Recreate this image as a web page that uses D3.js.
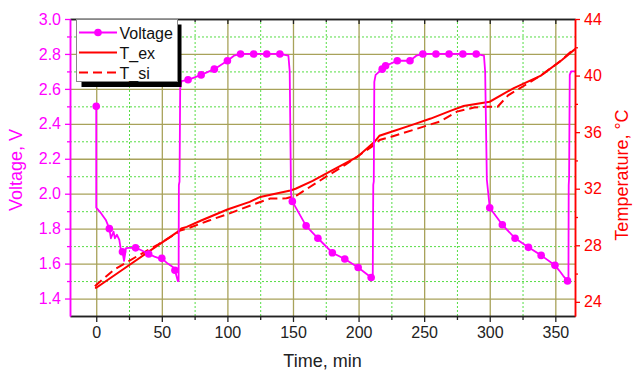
<!DOCTYPE html>
<html>
<head>
<meta charset="utf-8">
<script src="https://cdn.jsdelivr.net/npm/d3@7"></script>
<style>
  body { margin: 0; background: #fff; }
  svg { font-family: "Liberation Sans", Arial, sans-serif; }
</style>
</head>
<body>
<svg></svg>
<script>
// Data
const voltT = [0, 0, 3.5, 7.3, 10, 11.2, 13.2, 14.2, 15.8, 17.6, 18.8, 20, 21.2, 22.7, 25, 30, 34, 40, 44.4, 48.2, 50, 54.5, 58.4, 60, 62.2, 62.8,
  63.0, 63.5, 64.0, 65, 70, 80, 90, 100, 105, 110, 120, 130, 140, 146.5, 147.5, 148.5, 149.5,
  160, 169, 180, 189.5, 199.7, 209.6, 210.8, 211.2, 211.6, 212, 213, 218, 220.6, 229.5, 239.2, 244, 249, 259, 269, 279.5, 289.7, 295.6, 296.5, 297.8,
  300, 309.6, 319.3, 329.5, 339.2, 349.7, 353, 356, 359.3, 360, 360.2, 360.5, 361, 362, 366];
const voltV = [2.50, 1.92, 1.89, 1.85, 1.80, 1.745, 1.783, 1.745, 1.765, 1.736, 1.678, 1.668, 1.615, 1.689, 1.69, 1.69, 1.678, 1.655, 1.64, 1.63, 1.63, 1.60, 1.58, 1.562, 1.50, 1.50,
  2.05, 2.07, 2.60, 2.645, 2.652, 2.68, 2.713, 2.761, 2.79, 2.80, 2.80, 2.80, 2.80, 2.79, 2.70, 2.00, 1.956,
  1.816, 1.745, 1.662, 1.626, 1.578, 1.52, 1.51, 2.05, 2.07, 2.64, 2.68, 2.713, 2.732, 2.761, 2.761, 2.79, 2.80, 2.80, 2.80, 2.80, 2.80, 2.79, 2.70, 2.08,
  1.92, 1.822, 1.745, 1.693, 1.647, 1.59, 1.56, 1.53, 1.501, 1.50, 2.05, 2.09, 2.68, 2.70, 2.70];

const markT = [0, 10, 20, 30, 40, 50, 60, 70, 80, 90, 100, 110, 120, 130, 140, 149.5, 160, 169, 180, 189.5, 199.7, 209.6,
  218, 220.6, 229.5, 239.2, 249, 259, 269, 279.5, 289.7, 300, 309.6, 319.3, 329.5, 339.2, 349.7, 359.3];
const markV = [2.50, 1.80, 1.668, 1.69, 1.655, 1.63, 1.562, 2.652, 2.68, 2.713, 2.761, 2.80, 2.80, 2.80, 2.80, 1.956, 1.816, 1.745, 1.662, 1.626, 1.578, 1.52,
  2.713, 2.732, 2.761, 2.761, 2.80, 2.80, 2.80, 2.80, 2.80, 1.92, 1.822, 1.745, 1.693, 1.647, 1.59, 1.501];

const exT = [-1, 0, 20, 40, 62, 65, 69, 80, 100, 117, 125, 148, 152, 165, 178, 199, 212, 216, 242, 255, 270, 280, 300, 318, 339, 355, 366];
const exV = [25.0, 25.0, 26.27, 27.55, 28.95, 29.2, 29.3, 29.75, 30.53, 31.07, 31.42, 31.88, 32.0, 32.55, 33.2, 34.25, 35.3, 35.75, 36.55, 36.96, 37.5, 37.85, 38.15, 39.1, 40.0, 41.1, 41.95];

const siT = [-1, 0, 14, 31.6, 47, 61, 64, 70, 86, 102.7, 120, 132.6, 145, 153, 171, 190, 212, 216, 224.4, 244.8, 262, 275, 288, 297, 306, 314, 339, 355, 363];
const siV = [25.1, 25.2, 26.3, 27.25, 28.05, 28.83, 29.05, 29.2, 29.75, 30.29, 30.9, 31.3, 31.32, 31.54, 32.6, 33.7, 35.1, 35.45, 35.66, 36.25, 36.75, 37.45, 37.74, 37.8, 37.8, 38.6, 40.0, 41.1, 41.8];

const timeTicks = [0, 50, 100, 150, 200, 250, 300, 350];
const voltTicks = [1.4, 1.6, 1.8, 2.0, 2.2, 2.4, 2.6, 2.8, 3.0];
const tempTicks = [24, 28, 32, 36, 40, 44];

// Sizes
const margin = { t: 19, b: 55, l: 70, r: 58 };
const W = 633, H = 371;
const width = W - margin.l - margin.r;
const height = H - margin.t - margin.b;

const MAG = "#ff00ff", RED = "#ff0000", OLIVE = "#a8a25a", GREEN = "#55dd44";

const root = d3.select("svg").attr("width", W).attr("height", H);
const svg = root.append("g").attr("transform", `translate(${margin.l}, ${margin.t})`);

// Scales
const x = d3.scaleLinear().domain([-20, 365]).range([0, width]);
const yV = d3.scaleLinear().domain([1.3, 3.0]).range([height, 0]);
const yT = d3.scaleLinear().domain([23, 44]).range([height, 0]);

const timeMinor = d3.range(25, 350, 50);
const voltMinor = d3.range(1.5, 3.0, 0.2);
const tempMinor = d3.range(26, 44, 4);

// Grids
const grid = (axis, cls) => g => {
  g.call(axis);
  g.select(".domain").remove();
  g.selectAll("line").attr("class", cls);
};
svg.append("g").attr("transform", `translate(0, ${height})`)
  .call(grid(d3.axisBottom(x).tickValues(timeMinor).tickSize(-height).tickFormat(""), "gm"));
svg.append("g")
  .call(grid(d3.axisLeft(yV).tickValues(voltMinor).tickSize(-width).tickFormat(""), "gm"));
svg.append("g").attr("transform", `translate(0, ${height})`)
  .call(grid(d3.axisBottom(x).tickValues(timeTicks).tickSize(-height).tickFormat(""), "gM"));
svg.append("g")
  .call(grid(d3.axisLeft(yV).tickValues(voltTicks.filter(v => v < 3)).tickSize(-width).tickFormat(""), "gM"));
svg.selectAll(".gm").attr("stroke", GREEN).attr("stroke-width", 1).attr("stroke-dasharray", "2,2");
svg.selectAll(".gM").attr("stroke", OLIVE).attr("stroke-width", 1.3);

// Lines
root.append("defs").append("clipPath").attr("id", "clip")
  .append("rect").attr("width", width).attr("height", height);
const plot = svg.append("g").attr("clip-path", "url(#clip)");

const lineV = d3.line().x(i => x(voltT[i])).y(i => yV(voltV[i]));
const lineEx = d3.line().x(i => x(exT[i])).y(i => yT(exV[i]));
const lineSi = d3.line().x(i => x(siT[i])).y(i => yT(siV[i]));

plot.append("path").attr("d", lineSi(d3.range(siT.length)))
  .attr("fill", "none").attr("stroke", RED).attr("stroke-width", 2).attr("stroke-dasharray", "9,5");
plot.append("path").attr("d", lineEx(d3.range(exT.length)))
  .attr("fill", "none").attr("stroke", RED).attr("stroke-width", 2);
plot.append("path").attr("d", lineV(d3.range(voltT.length)))
  .attr("fill", "none").attr("stroke", MAG).attr("stroke-width", 1.8).attr("stroke-linejoin", "round");
plot.selectAll("circle.mk").data(d3.range(markT.length)).join("circle")
  .attr("class", "mk")
  .attr("cx", i => x(markT[i])).attr("cy", i => yV(markV[i])).attr("r", 3.8)
  .attr("fill", MAG);

// Axes
const styleAxis = (g, color, size) => {
  g.select(".domain").attr("stroke", color).attr("stroke-width", 1.5);
  g.selectAll(".tick line").attr("stroke", color).attr("stroke-width", 1.3);
  g.selectAll(".tick text").attr("fill", color).attr("font-size", size)
    .attr("font-family", "Liberation Sans, Arial, sans-serif");
};

// top frame
svg.append("g").call(d3.axisTop(x).tickValues(timeMinor).tickSize(-3).tickSizeOuter(0).tickFormat(""))
  .call(g => styleAxis(g, "#222", 0));
svg.append("g").call(d3.axisTop(x).tickValues(timeTicks).tickSize(-5).tickSizeOuter(0).tickFormat(""))
  .call(g => styleAxis(g, "#222", 0));

// x axis
svg.append("g").attr("transform", `translate(0, ${height})`)
  .call(d3.axisBottom(x).tickValues(timeMinor).tickSize(4).tickSizeOuter(0).tickFormat(""))
  .call(g => styleAxis(g, "#222", 0));
svg.append("g").attr("transform", `translate(0, ${height})`)
  .call(d3.axisBottom(x).tickValues(timeTicks).tickSize(6).tickSizeOuter(0).tickPadding(5))
  .call(g => styleAxis(g, "#222", 16));

// left axis
svg.append("g")
  .call(d3.axisLeft(yV).tickValues(voltMinor).tickSize(3).tickSizeOuter(0).tickFormat(""))
  .call(g => styleAxis(g, MAG, 0));
svg.append("g")
  .call(d3.axisLeft(yV).tickValues(voltTicks).tickSize(5).tickSizeOuter(0).tickPadding(4).tickFormat(d3.format(".1f")))
  .call(g => styleAxis(g, MAG, 16));

// right axis
svg.append("g").attr("transform", `translate(${width}, 0)`)
  .call(d3.axisRight(yT).tickValues(tempMinor).tickSize(3).tickSizeOuter(0).tickFormat(""))
  .call(g => styleAxis(g, RED, 0));
svg.append("g").attr("transform", `translate(${width}, 0)`)
  .call(d3.axisRight(yT).tickValues(tempTicks).tickSize(5).tickSizeOuter(0).tickPadding(4))
  .call(g => styleAxis(g, RED, 16));

// Axis titles
root.append("text").attr("x", margin.l + width / 2).attr("y", 367)
  .attr("text-anchor", "middle").attr("font-size", 18).attr("fill", "#222").text("Time, min");
root.append("text").attr("transform", "translate(22, 170) rotate(-90)")
  .attr("text-anchor", "middle").attr("font-size", 18).attr("fill", MAG).text("Voltage, V");
root.append("text").attr("transform", "translate(628, 175) rotate(-90)")
  .attr("text-anchor", "middle").attr("font-size", 18).attr("fill", RED).text("Temperature, °C");

// Legend
const leg = root.append("g");
leg.append("rect").attr("x", 81.5).attr("y", 24.5).attr("width", 100).attr("height", 62.5).attr("fill", "#000");
leg.append("rect").attr("x", 76.5).attr("y", 19.5).attr("width", 101).attr("height", 62).attr("fill", "#fff")
  .attr("stroke", "#888").attr("stroke-width", 1);
const legItems = [
  { name: "Voltage", color: MAG, dash: null, dot: true },
  { name: "T_ex", color: RED, dash: null, dot: false },
  { name: "T_si", color: RED, dash: "9,5", dot: false }
];
legItems.forEach((d, i) => {
  const yy = 32.5 + i * 20;
  leg.append("line").attr("x1", 79).attr("x2", 117).attr("y1", yy).attr("y2", yy)
    .attr("stroke", d.color).attr("stroke-width", 2).attr("stroke-dasharray", d.dash);
  if (d.dot) leg.append("circle").attr("cx", 98).attr("cy", yy).attr("r", 3.8).attr("fill", d.color);
  leg.append("text").attr("x", 119.5).attr("y", yy + 6).attr("font-size", 16).attr("fill", "#111").text(d.name);
});
</script>
</body>
</html>
